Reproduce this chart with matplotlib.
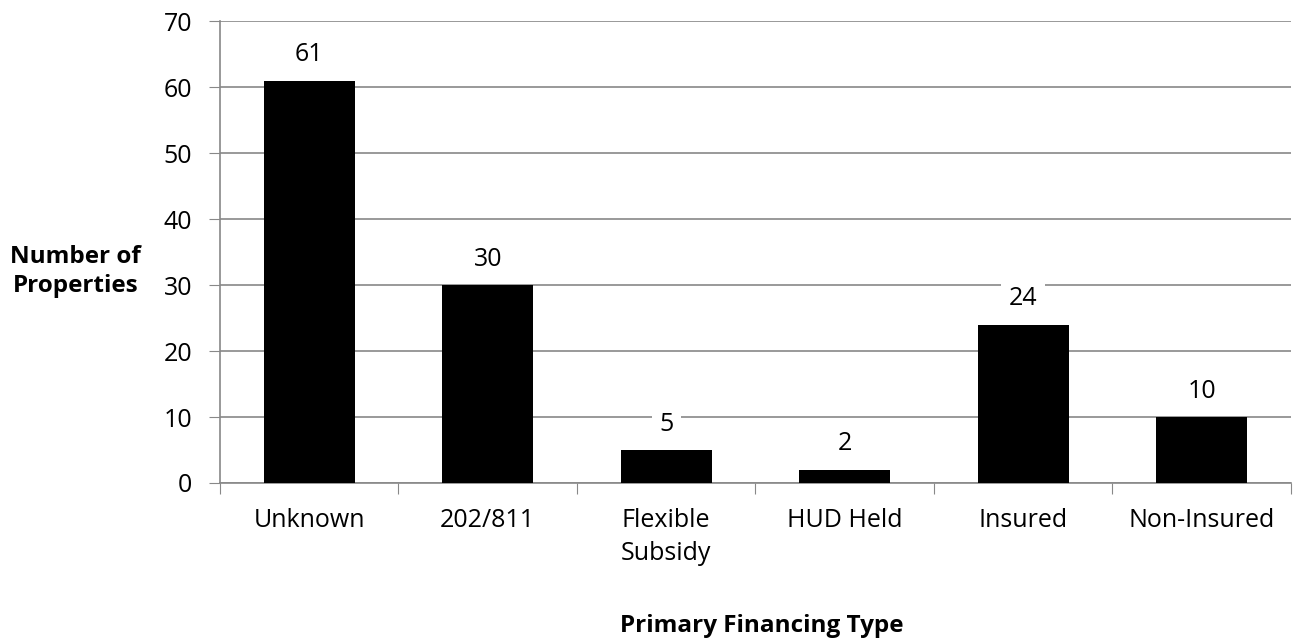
import matplotlib.pyplot as plt

# datos
categorias = ["Unknown", "202/811", "Flexible\nSubsidy", "HUD Held", "Insured", "Non-Insured"]
valores = [61, 30, 5, 2, 24, 10]

plt.rcParams["font.family"] = ["Open Sans", "DejaVu Sans"]

fig = plt.figure(figsize=(13.04, 6.41), dpi=100)
ax = fig.add_axes([0.1687, 0.2465, 0.8213, 0.72])

x = range(len(categorias))
ax.bar(x, valores, width=0.51, color="black", zorder=3)

# etiquetas de datos con fondo blanco
for xi, v in zip(x, valores):
    ax.annotate(str(v), (xi, v), xytext=(0, 14), textcoords="offset points",
                ha="center", va="baseline", fontsize=18, zorder=4,
                bbox=dict(boxstyle="square,pad=0.3", fc="white", ec="none"))

ax.set_xlim(-0.5, 5.5)
ax.set_ylim(0, 70)
ax.set_yticks(range(0, 71, 10))
ax.tick_params(axis="y", labelsize=18, length=8, color="#888888", pad=12)
ax.yaxis.grid(True, color="#888888", linewidth=1.2)
ax.set_axisbelow(True)

# ticks x en los limites entre categorias
ax.set_xticks([i - 0.5 for i in range(len(categorias) + 1)])
ax.set_xticklabels([""] * (len(categorias) + 1))
ax.tick_params(axis="x", length=8, color="#888888")
ax.set_xticks(list(x), minor=True)
ax.set_xticklabels(categorias, minor=True, fontsize=18)
ax.tick_params(axis="x", which="minor", length=0, pad=18)
for lbl in ax.get_xticklabels(minor=True):
    lbl.set_linespacing(1.4)
    lbl.set_verticalalignment("top")

for s in ["top", "right"]:
    ax.spines[s].set_visible(False)
for s in ["left", "bottom"]:
    ax.spines[s].set_color("#888888")
    ax.spines[s].set_linewidth(1.2)

ax.set_ylabel("Number of\nProperties", fontsize=17.5, fontweight="bold", rotation=0,
              ha="center", va="center", labelpad=0, linespacing=1.25)
ax.yaxis.set_label_coords(-0.135, 0.458)
fig.text(0.584, 0.023, "Primary Financing Type", fontsize=17.5, fontweight="bold",
         ha="center", va="center")

plt.savefig("out.png", dpi=100)
plt.close()
